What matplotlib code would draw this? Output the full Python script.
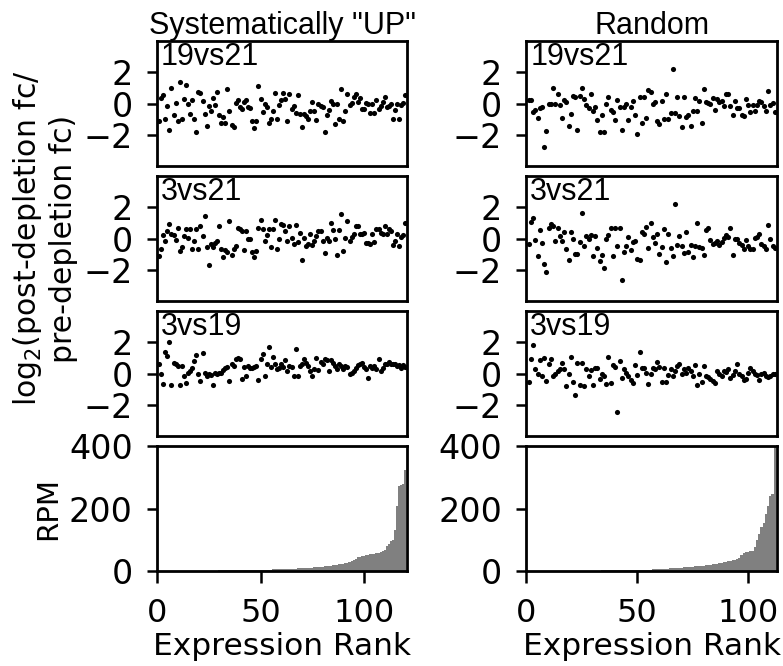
import matplotlib
matplotlib.use("Agg")
import matplotlib.pyplot as plt
import numpy as np

# log2 fold-change ratios, ordered by expression rank
up_19vs21 = [-1.15, 0.37, 0.54, -0.98, -0.17, -1.72, 1.02, -0.72, 0.04, -1.15,
             1.35, -1.0, 0.26, 1.17, -0.02, -0.67, 0.22, -1.0, -1.85, 0.74,
             0.70, 0.15, -0.67, -1.41, -0.17, -0.46, 0.37, -0.11, 0.74, -0.72,
             -1.26, -0.89, -1.22, 0.91, -0.5, -1.37, -1.48, 0.04, 0.22, -0.24,
             -0.35, 0.09, 0.22, -0.24, -0.28, -1.15, -1.59, -1.15, 1.09, 0.26,
             -0.54, -0.02, -0.22, -1.22, -1.02, -0.46, 0.70, -1.0, -0.07, 0.22,
             0.65, 0.26, -1.11, 0.59, -0.35, -0.17, -0.61, 0.52, -0.67, -1.48,
             -0.67, -0.83, -1.0, -0.46, 0.09, -0.5, -1.04, -0.02, -0.13, -0.24,
             -1.8, -0.76, -0.43, 0.15, -0.02, -1.28, 0.0, -1.0, 0.96, -1.09,
             -0.46, 0.63, -0.09, 0.04, 0.43, 0.63, 0.09, 0.37, -0.33, -0.35,
             0.04, 0.0, -0.61, 0.0, -0.61, 0.2, -0.37, -0.17, 0.11, 0.43,
             -0.24, -0.15, 0.0, -1.0, -0.43, -0.02, -1.0, -0.07, 0.04, 0.52]

up_3vs21 = [-1.11, -0.64, 0.21, -0.15, 0.49, 0.91, 0.28, 0.21, -0.09, 0.7,
            -0.79, -0.53, 0.13, 0.6, 0.06, 0.6, -0.68, -0.15, 0.6, -0.68,
            0.81, 0.17, 1.45, -0.57, -1.7, -0.36, -0.57, -0.26, -0.15, 0.77,
            -0.64, -1.17, -0.72, -0.85, 1.11, -1.04, -0.68, -0.51, 0.7, 0.64,
            0.49, -0.72, 0.49, 0.0, 0.0, -0.85, -1.21, -0.79, 0.7, 1.19,
            0.64, -0.17, 0.21, 0.6, -0.57, 0.64, 1.19, -0.68, -0.04, 0.91,
            0.85, 0.49, -0.15, 0.83, 0.06, -0.36, 0.85, -0.21, 0.34, -1.38,
            0.06, -0.47, -0.36, 0.28, -0.43, -0.15, 0.17, 0.49, 0.49, -0.15,
            -0.94, 0.06, -0.15, 0.98, 0.55, -0.04, -1.04, 0.53, 1.6, -0.79,
            0.06, 1.13, -0.17, 0.11, 0.28, 0.81, 0.81, 0.28, 0.28, 0.38,
            -0.26, -0.3, -0.32, 0.28, -0.21, 0.64, 0.6, 0.38, 0.28, 0.77,
            0.28, 0.64, 0.47, -0.4, -0.15, 0.28, -0.51, 0.11, 0.21, 1.02]

up_3vs19 = [0.58, 0.0, -0.65, 1.38, 1.12, 2.02, -0.75, 0.69, 0.58, 0.47,
            -0.71, 0.47, -0.17, -0.6, 0.04, 0.15, 0.37, 0.8, 1.16, -0.02,
            -0.49, 1.29, 0.04, -0.17, -0.06, -0.11, -0.71, 0.04, -0.06, 0.04,
            0.04, 0.22, 0.37, 0.41, -0.49, 0.62, 0.47, 0.9, 0.97, 0.9,
            -0.32, 0.41, -0.17, 0.47, 0.37, 0.37, 0.41, 0.47, -0.39, 0.9,
            1.23, -0.17, 0.58, 1.7, 0.41, 1.05, 0.58, 0.26, 0.37, 0.62,
            0.41, 0.84, 0.19, 0.47, 0.41, -0.17, 1.59, -0.17, 0.47, 0.58,
            0.9, 0.69, 0.47, 0.19, -0.13, 0.26, 0.97, 0.22, 0.75, 0.62,
            0.9, 0.84, 0.19, 0.84, 0.69, 0.47, 0.3, 0.62, 0.47, 0.26,
            0.47, 0.41, -0.06, 0.04, 0.15, 0.37, 0.52, 0.58, 0.69, 0.41,
            0.3, -0.28, 0.47, 0.37, 0.47, 0.26, 0.9, 0.15, 0.37, 0.58,
            0.62, 0.75, 0.62, 0.58, 0.58, 0.47, 0.54, 0.37, 0.54, 0.41]

rnd_19vs21 = [0.2, 0.2, -0.54, -0.39, -0.93, -0.28, -0.24, -2.78, -1.76, -0.02,
              -0.02, 1.02, -0.02, 0.59, -0.07, -0.93, 0.2, 0.09, -1.41, -0.67,
              0.48, 0.43, -1.7, 0.48, 0.98, 0.26, -0.11, -0.28, 0.59, -0.5,
              -0.24, -1.04, -1.8, -0.72, -1.8, -0.02, 0.43, -0.39, -0.54, -1.07,
              0.2, -0.24, -1.7, -0.24, -0.02, -1.07, -0.24, 0.15, -0.76, -1.96,
              0.43, -1.24, 0.43, -0.93, 0.85, 0.74, 0.0, 0.09, -1.15, -1.33,
              0.15, -1.0, 0.59, -1.0, -0.61, 2.2, -0.61, 0.41, -0.83, -1.48,
              0.41, -0.89, -0.72, -1.43, -0.46, 0.37, -0.46, 0.15, -1.24, 0.96,
              0.09, 0.04, -0.02, 0.33, -0.43, 0.26, 0.09, 0.15, -0.13, 0.59,
              0.59, -0.17, -0.76, 0.15, -0.28, -0.28, -0.76, -0.83, 0.26, -0.11,
              -0.54, -0.07, -0.46, -0.07, 0.15, 0.11, -0.13, -0.5, 0.8, -0.11,
              0.04, -0.57]

rnd_3vs21 = [-0.32, 1.08, 1.33, -0.11, -1.14, 0.54, -0.26, -1.66, -2.17, 0.69,
             0.9, 0.8, -0.17, 0.65, 0.15, -0.17, 0.39, -0.69, -1.4, 0.39,
             -0.04, -1.01, -0.97, -0.22, 1.66, -0.47, 0.15, 0.0, 0.22, -1.14,
             0.15, -0.58, -1.44, -1.08, -1.87, -0.04, 0.22, 0.65, -1.12, 0.65,
             -0.47, 0.69, -2.65, -0.86, -0.47, 0.11, -0.71, -0.22, -0.17, -1.29,
             -1.35, 0.39, 0.26, 0.75, -0.58, 1.01, 0.11, -0.28, 0.32, -0.97,
             -0.54, 0.58, -1.51, 0.32, -0.6, -1.14, 2.19, -0.39, 0.15, -0.49,
             -0.9, 0.39, -0.86, -0.43, -1.18, -0.49, 0.97, -0.54, -0.6, -1.08,
             0.54, 0.65, -0.11, -0.32, -0.28, -0.17, -0.43, -0.22, 0.04, 0.22,
             0.11, 0.69, -1.08, -0.04, 0.0, -0.28, -0.39, -0.69, -0.11, -0.47,
             -0.65, -0.65, 0.04, 0.11, 0.32, -0.32, -0.49, -0.69, 0.86, 0.0,
             -0.49, -0.6]

rnd_3vs19 = [-0.56, 0.9, 1.83, 0.26, -0.06, 0.84, -0.17, 1.01, -0.45, 0.58,
             0.9, -0.17, -0.06, 0.15, 0.26, 0.69, 0.3, -0.82, -0.06, 1.05,
             -0.54, -1.4, 0.69, -0.71, 0.69, -0.77, 0.26, -0.17, 0.24, -0.71,
             0.37, 0.37, -0.32, -0.02, -0.17, -0.65, 1.05, -0.6, 0.52, 0.41,
             -2.47, 0.8, -0.28, 0.3, 0.04, -0.17, -0.39, -0.6, 0.52, -0.11,
             1.38, 0.37, 0.37, 0.04, -0.67, -0.06, 0.37, 0.26, 0.75, 0.41,
             -0.54, 0.37, -0.54, -0.11, 0.32, -0.13, 0.19, 0.47, 0.58, -0.06,
             0.26, 0.04, 0.37, 0.15, -0.17, 0.54, -0.71, -0.06, -0.54, 0.47,
             -0.17, -0.24, -0.32, -0.45, -0.6, 0.15, -0.06, -0.17, 0.15, 0.09,
             0.32, -0.28, -0.11, 0.15, 0.62, -0.02, -0.17, -0.39, -0.32, 0.04,
             0.37, 0.19, -0.02, -0.11, -0.39, -0.06, 0.04, -0.13, -0.24, -0.13,
             -0.06, -0.02]

# reads per million, sorted ascending
up_rpm = [0.1, 0.2, 0.2, 0.3, 0.3, 0.4, 0.4, 0.5, 0.5, 0.6,
          0.6, 0.7, 0.7, 0.8, 0.8, 0.9, 0.9, 1.0, 1.0, 1.1,
          1.1, 1.2, 1.2, 1.3, 1.3, 1.4, 1.5, 1.5, 1.6, 1.7,
          1.8, 1.9, 2.0, 2.1, 2.2, 2.3, 2.4, 2.5, 2.6, 2.7,
          2.8, 2.9, 3.0, 3.1, 3.2, 3.3, 3.4, 3.5, 3.6, 3.8,
          4.0, 4.2, 4.4, 4.6, 4.8, 5.0, 5.2, 5.4, 5.6, 5.9,
          6.2, 6.5, 6.8, 7.0, 7.3, 7.6, 7.9, 8.2, 8.5, 8.8,
          9.2, 9.6, 10.0, 10.5, 11.0, 11.6, 12.2, 12.8, 13.4, 14.0,
          14.8, 15.5, 16.3, 17.0, 18.0, 19.0, 20.0, 21.0, 22.0, 23.5,
          25, 27, 29, 31, 36, 40, 44, 46, 47, 48,
          50, 52, 53, 55, 56, 57, 59, 61, 64, 68,
          80, 88, 95, 100, 132, 207, 272, 276, 280, 322]

rnd_rpm = [0.1, 0.2, 0.2, 0.3, 0.3, 0.4, 0.4, 0.5, 0.6, 0.6,
           0.7, 0.7, 0.8, 0.9, 0.9, 1.0, 1.0, 1.1, 1.1, 1.2,
           1.2, 1.3, 1.3, 1.3, 1.4, 1.4, 1.4, 1.5, 1.5, 1.5,
           1.5, 1.55, 1.6, 1.7, 1.75, 1.8, 1.85, 1.9, 2.0, 2.05,
           2.1, 2.2, 2.3, 2.4, 2.5, 2.6, 2.7, 2.8, 2.9, 3.0,
           3.2, 3.5, 3.8, 4.1, 4.4, 4.7, 5.0, 5.4, 5.8, 6.2,
           6.6, 7.0, 7.4, 7.8, 8.2, 8.6, 9.2, 9.8, 10.4, 11.0,
           11.6, 12.2, 12.8, 13.4, 14.0, 14.6, 15.2, 15.8, 16.4, 17.0,
           18.0, 19.0, 20.0, 21.0, 22.0, 23.0, 24.5, 26.0, 27.5, 29.0,
           30.5, 32, 34, 36, 38, 41,
           50, 57, 60, 62, 63, 65,
           77, 100, 117, 140, 155, 182, 209, 239, 245, 480]

columns = [
    ('Systematically "UP"', [up_19vs21, up_3vs21, up_3vs19], up_rpm),
    ("Random", [rnd_19vs21, rnd_3vs21, rnd_3vs19], rnd_rpm),
]
panel_names = ["19vs21", "3vs21", "3vs19"]

plt.rcParams["font.family"] = "DejaVu Sans"
plt.rcParams["axes.linewidth"] = 2

fig, axes = plt.subplots(4, 2, figsize=(7.83, 6.66), dpi=100)
fig.subplots_adjust(left=0.2005, right=0.9923, top=0.9384, bottom=0.1426,
                    hspace=0.08, wspace=0.475)

for col, (title, ratios, rpm) in enumerate(columns):
    n = len(rpm)
    for row in range(3):
        ax = axes[row, col]
        vals = ratios[row]
        ax.plot(np.arange(1, len(vals) + 1), vals, "o", color="k", ms=3.7, mec="none")
        ax.set_xlim(0, n + 1)
        ax.set_ylim(-4, 4)
        ax.set_yticks([-2, 0, 2])
        ax.set_xticks([])
        ax.text(0.015, 0.995, panel_names[row], transform=ax.transAxes,
                va="top", ha="left", family="Liberation Sans", fontsize=22)
        ax.tick_params(axis="y", length=7.5, width=1.8, pad=10, labelsize=24)
    axes[0, col].set_title(title, family="Liberation Sans", fontsize=22, pad=3)

    ax = axes[3, col]
    ax.bar(np.arange(1, n + 1), rpm, width=1.0, color="#808080", linewidth=0)
    ax.set_xlim(0, n + 1)
    ax.set_ylim(0, 400)
    ax.set_yticks([0, 200, 400])
    ax.set_xticks([0, 50, 100])
    ax.set_xlabel("Expression Rank", fontsize=22.5, labelpad=2)
    ax.tick_params(axis="y", length=7.5, width=1.8, pad=10, labelsize=24)
    ax.tick_params(axis="x", length=8.5, width=1.8, pad=11, labelsize=23)

axes[1, 0].set_ylabel("log$_2$(post-depletion fc/\npre-depletion fc)",
                      fontsize=21.5, labelpad=4)
axes[3, 0].set_ylabel("RPM", fontsize=21, labelpad=5)

fig.savefig("out.png", dpi=100)
